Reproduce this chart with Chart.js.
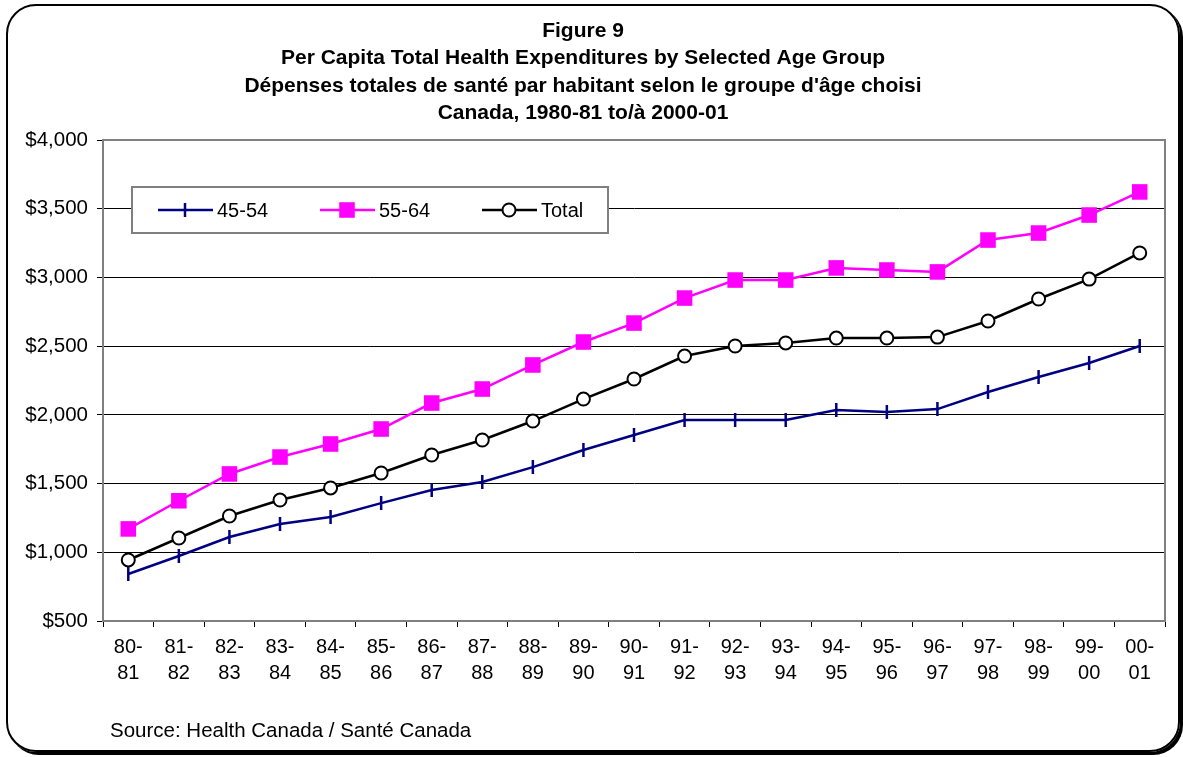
<!DOCTYPE html>
<html>
<head>
<meta charset="utf-8">
<script src="https://cdn.jsdelivr.net/npm/chart.js@4.4.1/dist/chart.umd.min.js"></script>
<style>
  html, body { margin: 0; padding: 0; background: #fff; }
  #frame {
    position: absolute; left: 6px; top: 4px; width: 1170px; height: 744px;
    border: 2px solid #000; border-radius: 30px;
    box-shadow: 3px 3px 0 #000;
  }
  #wrap { position: absolute; left: 0; top: 0; width: 1183px; height: 757px; }
</style>
</head>
<body>
<div id="frame"></div>
<div id="wrap"><canvas id="healthChart"></canvas></div>
<script>
// Per capita health spending, Canada 1980-81 to 2000-01
const categories = ['80-81', '81-82', '82-83', '83-84', '84-85', '85-86', '86-87', '87-88', '88-89', '89-90',
    '90-91', '91-92', '92-93', '93-94', '94-95', '95-96', '96-97', '97-98', '98-99', '99-00', '00-01'];
const age4554 = [842, 973, 1111, 1206, 1257, 1358, 1453, 1511, 1620, 1744, 1853,
    1962, 1962, 1962, 2035, 2020, 2042, 2166, 2275, 2377, 2501];
const age5564 = [1170, 1375, 1570, 1693, 1788, 1897, 2086, 2188, 2363, 2530, 2668,
    2850, 2981, 2981, 3069, 3054, 3040, 3272, 3323, 3454, 3622];
const totalAll = [944, 1104, 1264, 1380, 1468, 1577, 1708, 1817, 1955, 2115, 2261,
    2428, 2501, 2523, 2559, 2559, 2566, 2683, 2843, 2988, 3178];
const yTicks = [500, 1000, 1500, 2000, 2500, 3000, 3500, 4000];

const titleLines = [
    'Figure 9',
    'Per Capita Total Health Expenditures by Selected Age Group',
    'Dépenses totales de santé par habitant selon le groupe d\'âge choisi',
    'Canada, 1980-81 to/à 2000-01'
];
const sourceText = 'Source: Health Canada / Santé Canada';
const FONT = 'Arial, "Liberation Sans", sans-serif';

// titles, plot frame, inner legend and source note
const decorPlugin = {
    id: 'decor',
    afterDraw(chart) {
        const ctx = chart.ctx;
        const area = chart.chartArea;
        ctx.save();
        // plot frame
        ctx.strokeStyle = '#808080';
        ctx.lineWidth = 2;
        ctx.strokeRect(area.left, area.top, area.right - area.left, area.bottom - area.top);

        // titles
        ctx.fillStyle = '#000';
        ctx.textAlign = 'center';
        ctx.textBaseline = 'middle';
        ctx.font = 'bold 21px ' + FONT;
        [31, 58, 86, 113].forEach((y, i) => ctx.fillText(titleLines[i], 583, y));

        // legend box
        ctx.fillStyle = '#fff';
        ctx.fillRect(132, 187, 476, 46);
        ctx.strokeStyle = '#808080';
        ctx.lineWidth = 2;
        ctx.strokeRect(132, 187, 476, 46);
        const starts = [158, 320, 482];
        ctx.font = '20px ' + FONT;
        ctx.textAlign = 'left';
        chart.data.datasets.forEach((ds, i) => {
            const x0 = starts[i], y = 210;
            ctx.strokeStyle = ds.borderColor;
            ctx.lineWidth = ds.borderWidth;
            ctx.beginPath();
            ctx.moveTo(x0, y);
            ctx.lineTo(x0 + 55, y);
            ctx.stroke();
            ctx.fillStyle = ds.pointBackgroundColor;
            ctx.strokeStyle = ds.pointBorderColor;
            ctx.lineWidth = ds.pointBorderWidth;
            Chart.helpers.drawPoint(ctx, {
                pointStyle: ds.pointStyle,
                rotation: ds.pointRotation || 0,
                radius: ds.pointRadius,
                borderWidth: ds.pointBorderWidth
            }, x0 + 27, y);
            ctx.fillStyle = '#000';
            ctx.fillText(ds.label, x0 + 59, y + 1);
        });

        // source
        ctx.font = '20.5px ' + FONT;
        ctx.fillText(sourceText, 110, 731);
        ctx.restore();
    }
};

new Chart(document.getElementById('healthChart').getContext('2d'), {
    type: 'line',
    data: {
        labels: categories,
        datasets: [{
            label: '45-54',
            data: age4554,
            borderColor: '#000080',
            borderWidth: 2.5,
            pointStyle: 'line',
            pointRotation: 90,
            pointRadius: 7,
            pointBorderWidth: 2.5,
            pointBackgroundColor: '#000080',
            pointBorderColor: '#000080',
            tension: 0
        }, {
            label: '55-64',
            data: age5564,
            borderColor: '#ff00ff',
            borderWidth: 2.5,
            pointStyle: 'rect',
            pointRadius: 11,
            pointBorderWidth: 0,
            pointBackgroundColor: '#ff00ff',
            pointBorderColor: '#ff00ff',
            tension: 0
        }, {
            label: 'Total',
            data: totalAll,
            borderColor: '#000',
            borderWidth: 2.5,
            pointStyle: 'circle',
            pointRadius: 6.5,
            pointBorderWidth: 2,
            pointBackgroundColor: '#fff',
            pointBorderColor: '#000',
            tension: 0
        }]
    },
    options: {
        responsive: true,
        maintainAspectRatio: false,
        animation: false,
        layout: { padding: { top: 140, right: 18, left: 0, bottom: 0 } },
        plugins: {
            legend: { display: false },
            title: { display: false },
            tooltip: { enabled: false }
        },
        scales: {
            x: {
                offset: true,
                grid: { offset: true, drawOnChartArea: false, tickLength: 6, tickColor: '#000' },
                border: { color: '#808080', width: 2 },
                ticks: {
                    color: '#000',
                    font: { family: FONT, size: 20, lineHeight: 1.3 },
                    padding: 7,
                    maxRotation: 0,
                    autoSkip: false,
                    callback: function (v) {
                        const parts = this.getLabelForValue(v).split('-');
                        return [parts[0] + '-', parts[1]];
                    }
                },
                afterFit: s => { s.height = 757 - 140 - 481; }
            },
            y: {
                min: yTicks[0],
                max: yTicks[yTicks.length - 1],
                afterBuildTicks: s => { s.ticks = yTicks.map(v => ({ value: v })); },
                grid: { color: '#000', lineWidth: 1, tickLength: 6, tickColor: '#000' },
                border: { color: '#808080', width: 2 },
                ticks: {
                    color: '#000',
                    font: { family: FONT, size: 20.5 },
                    padding: 9,
                    callback: v => '$' + v.toLocaleString('en-US')
                },
                afterFit: s => { s.width = 103; }
            }
        }
    },
    plugins: [decorPlugin]
});
</script>
</body>
</html>
